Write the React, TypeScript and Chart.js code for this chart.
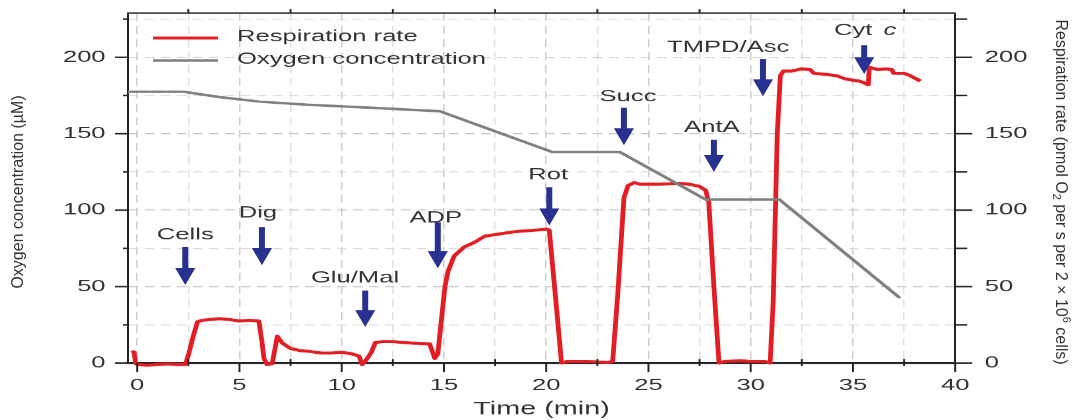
import React, { useEffect, useRef } from 'react';
import { Chart, registerables } from 'chart.js';

Chart.register(...registerables);

// ---------------- data ----------------
const respTime = [-0.25, -0.15, -0.08, 0, 0.5, 1, 1.5, 2, 2.35, 2.5, 2.75, 2.95, 3.2, 3.6, 4, 4.5, 5, 5.5, 5.95, 6.1, 6.2, 6.35, 6.6, 6.72, 6.85, 7.1, 7.5, 8, 8.5, 9, 9.5, 10, 10.5, 10.85, 11.0, 11.2, 11.45, 11.65, 12, 12.5, 13, 13.5, 14.3, 14.45, 14.55, 14.7, 14.85, 15.05, 15.2, 15.5, 16, 16.5, 17, 17.5, 18, 18.5, 19, 19.5, 20, 20.15, 20.45, 20.75, 21, 22, 23, 23.25, 23.5, 23.8, 24.0, 24.3, 24.6, 25.5, 26.5, 27.0, 27.5, 27.8, 27.95, 28.2, 28.45, 28.7, 29.5, 30, 30.7, 30.95, 31.1, 31.3, 31.45, 31.6, 32, 32.5, 32.9, 33.1, 33.6, 34.2, 34.6, 35, 35.3, 35.6, 35.75, 35.8, 36.2, 36.6, 36.9, 37.0, 37.5, 37.8, 38.3];
const respRate = [8, 7, 0, -1, -1.5, -1, -0.5, -1, -1, 5, 18, 27, 28, 28.5, 29, 28.5, 27.5, 28, 27.5, 14, 3, -1, -0.5, 8, 17.5, 13, 9.5, 8, 7.5, 6.5, 6.5, 7, 6, 4.5, -1, 2, 7, 13.5, 14, 14, 13.5, 13, 12.5, 7, 3, 6, 25, 50, 60, 70, 76, 79, 83, 84, 85, 86, 86.5, 87, 87.5, 87, 44, 0, 1, 1, 0.5, 1, 45, 108, 116, 118, 117, 117, 117.5, 117, 115.5, 113, 105, 50, 0, 1, 1.5, 1, 1, 0, 40, 150, 188, 191, 191, 192.5, 192, 189.5, 189, 188, 186, 185, 184.5, 183, 182, 193.5, 192, 192.5, 192, 189.5, 189.5, 188, 184.5];

const oxyTime = [-0.45, 2.3, 4.0, 6.0, 8.3, 11.5, 14.8, 20.3, 23.6, 27.8, 31.4, 37.3];
const oxyConc = [177.5, 177.5, 174, 171, 169, 167, 164.7, 138, 138, 107, 107, 42.5];

const xMajorTicks = [0, 5, 10, 15, 20, 25, 30, 35, 40];
const xMinorTicks = [2.5, 7.5, 12.5, 17.5, 22.5, 27.5, 32.5, 37.5];
const yMajorTicks = [0, 50, 100, 150, 200];
const yMinorTicks = [25, 75, 125, 175, 225];

const additions = ['Cells', 'Dig', 'Glu/Mal', 'ADP', 'Rot', 'Succ', 'AntA', 'TMPD/Asc', 'Cyt c'];
const arrowTime = [2.35, 6.1, 11.15, 14.7, 20.15, 23.8, 28.2, 30.6, 35.55];
const arrowTop = [76, 89, 47.5, 92, 115, 167, 146, 199, 208];
const arrowTip = [51, 64, 23.5, 62, 90, 142.5, 125, 174.5, 189];
const labelTime = [2.35, 5.9, 10.65, 14.6, 20.1, 24.0, 28.1, 28.9, 35.6];
const labelLevel = [83.7, 98, 55.5, 95, 123, 174, 154, 206.5, 217.6];

const seriesNames = ['Respiration rate', 'Oxygen concentration'];
const xTitle = 'Time (min)';
const leftTitle = 'Oxygen concentration (µM)';

// ---------------- styling ----------------
const STRETCH = 1.6; // the reference picture is stretched horizontally
const LOGICAL_W = 674;
const H = 420;
const FONT = '"Liberation Sans", Arial, Helvetica, sans-serif';
const TEXT = '#333333';
const RED = '#e31d24';
const GRAY = '#808080';
const BLUE = '#283190';

const isIn = (arr: number[], v: number) => arr.some((a) => Math.abs(a - v) < 1e-6);

const decorPlugin = {
  id: 'decor',
  afterDatasetsDraw(chart: any) {
    const ctx: CanvasRenderingContext2D = chart.ctx;
    const xs = chart.scales.x;
    const yl = chart.scales.y;
    const yr = chart.scales.y1;
    const { left, right, top, bottom } = chart.chartArea;
    ctx.save();

    // top frame
    ctx.strokeStyle = '#444';
    ctx.lineWidth = 1.6;
    ctx.beginPath();
    ctx.moveTo(left, top);
    ctx.lineTo(right, top);
    ctx.stroke();

    // tick marks
    const hLine = (x1: number, x2: number, y: number) => {
      ctx.beginPath();
      ctx.moveTo(x1, y);
      ctx.lineTo(x2, y);
      ctx.stroke();
    };
    const vLine = (x: number, y1: number, y2: number) => {
      ctx.beginPath();
      ctx.moveTo(x, y1);
      ctx.lineTo(x, y2);
      ctx.stroke();
    };
    ctx.strokeStyle = '#222';
    ctx.lineWidth = 1.5;
    yMajorTicks.forEach((v) => {
      const y = yl.getPixelForValue(v);
      hLine(left - 13 / STRETCH, left, y);
      hLine(right, right + 17 / STRETCH, y);
    });
    yMinorTicks.forEach((v) => {
      const y = yl.getPixelForValue(v);
      hLine(left - 5 / STRETCH, left, y);
      hLine(right, right + 12 / STRETCH, y);
    });
    ctx.lineWidth = 1.2;
    xMajorTicks.forEach((v) => {
      const x = xs.getPixelForValue(v);
      vLine(x, bottom, bottom + 9);
    });
    xMinorTicks.forEach((v) => {
      const x = xs.getPixelForValue(v);
      vLine(x, bottom - 4, bottom + 3);
      vLine(x, top - 4, top);
    });

    // arrows marking additions
    ctx.fillStyle = BLUE;
    const shaftHalf = 3 / STRETCH;
    const headHalf = 10 / STRETCH;
    const headLen = 17;
    additions.forEach((_, i) => {
      const x = xs.getPixelForValue(arrowTime[i]);
      const yTop = yr.getPixelForValue(arrowTop[i]);
      const yTip = yr.getPixelForValue(arrowTip[i]);
      const yHead = yTip - headLen;
      ctx.beginPath();
      ctx.moveTo(x - shaftHalf, yTop);
      ctx.lineTo(x + shaftHalf, yTop);
      ctx.lineTo(x + shaftHalf, yHead);
      ctx.lineTo(x + headHalf, yHead);
      ctx.lineTo(x, yTip);
      ctx.lineTo(x - headHalf, yHead);
      ctx.lineTo(x - shaftHalf, yHead);
      ctx.closePath();
      ctx.fill();
    });

    // labels of additions
    ctx.fillStyle = TEXT;
    ctx.textBaseline = 'middle';
    additions.forEach((name, i) => {
      const cx = xs.getPixelForValue(labelTime[i]);
      const cy = yr.getPixelForValue(labelLevel[i]);
      if (name === 'Cyt c') {
        ctx.font = `16px ${FONT}`;
        const w1 = ctx.measureText('Cyt').width;
        ctx.font = `italic 16px ${FONT}`;
        const w2 = ctx.measureText('c').width;
        const gap = 7;
        const start = cx - (w1 + gap + w2) / 2;
        ctx.textAlign = 'left';
        ctx.font = `16px ${FONT}`;
        ctx.fillText('Cyt', start, cy);
        ctx.font = `italic 16px ${FONT}`;
        ctx.fillText('c', start + w1 + gap, cy);
      } else {
        ctx.font = `16px ${FONT}`;
        ctx.textAlign = 'center';
        ctx.fillText(name, cx, cy);
      }
    });

    // legend inside the plot
    const legendRows = [
      { label: seriesNames[0], color: RED, width: 3, y: 38 },
      { label: seriesNames[1], color: GRAY, width: 2.5, y: 60.5 },
    ];
    legendRows.forEach((row) => {
      ctx.strokeStyle = row.color;
      ctx.lineWidth = row.width;
      hLine(153 / STRETCH, 218 / STRETCH, row.y);
      ctx.fillStyle = TEXT;
      ctx.font = `16px ${FONT}`;
      ctx.textAlign = 'left';
      ctx.textBaseline = 'middle';
      ctx.fillText(row.label, 237 / STRETCH, row.y - 1);
    });

    // vertical axis titles (drawn unstretched)
    type Part = { t: string; small?: boolean; dy?: number };
    const drawRich = (parts: Part[], cx: number, cy: number, rot: number) => {
      ctx.save();
      ctx.translate(cx, cy);
      ctx.scale(1 / STRETCH, 1);
      ctx.rotate(rot);
      ctx.textAlign = 'left';
      ctx.textBaseline = 'middle';
      ctx.fillStyle = TEXT;
      let total = 0;
      parts.forEach((p) => {
        ctx.font = p.small ? `11px ${FONT}` : `16px ${FONT}`;
        total += ctx.measureText(p.t).width;
      });
      let x = -total / 2;
      parts.forEach((p) => {
        ctx.font = p.small ? `11px ${FONT}` : `16px ${FONT}`;
        ctx.fillText(p.t, x, p.dy || 0);
        x += ctx.measureText(p.t).width;
      });
      ctx.restore();
    };
    const midY = (top + bottom) / 2 + 4;
    drawRich([{ t: leftTitle }], 19 / STRETCH, midY, -Math.PI / 2);
    drawRich(
      [
        { t: 'Respiration rate (pmol O' },
        { t: '2', small: true, dy: 4 },
        { t: ' per s per 2 × 10' },
        { t: '6', small: true, dy: -6 },
        { t: ' cells)' },
      ],
      1060 / STRETCH,
      midY,
      Math.PI / 2
    );

    ctx.restore();
  },
};

const noEdgePadding = (axis: any) => {
  axis.paddingTop = 0;
  axis.paddingBottom = 0;
  axis.paddingLeft = 0;
  axis.paddingRight = 0;
};

export default function App() {
  const ref = useRef<HTMLCanvasElement>(null);

  useEffect(() => {
    const canvas = ref.current;
    if (!canvas) return;
    const tickFont = { family: FONT, size: 16 };
    const xAll = [...xMajorTicks, ...xMinorTicks].sort((a, b) => a - b);
    const yAll = [...yMajorTicks, ...yMinorTicks].sort((a, b) => a - b);

    const chart = new Chart(canvas, {
      type: 'line',
      data: {
        datasets: [
          {
            label: seriesNames[1],
            data: oxyTime.map((t, i) => ({ x: t, y: oxyConc[i] })),
            yAxisID: 'y',
            borderColor: GRAY,
            borderWidth: 2.5,
            pointRadius: 0,
            tension: 0,
            fill: false,
          },
          {
            label: seriesNames[0],
            data: respTime.map((t, i) => ({ x: t, y: respRate[i] })),
            yAxisID: 'y1',
            borderColor: RED,
            borderWidth: 3,
            borderJoinStyle: 'round',
            pointRadius: 0,
            tension: 0,
            fill: false,
            clip: false,
          },
        ],
      },
      options: {
        responsive: false,
        devicePixelRatio: STRETCH,
        animation: false,
        events: [],
        layout: { padding: { top: 13, left: 0, right: 0, bottom: 0 } },
        plugins: {
          legend: { display: false },
          tooltip: { enabled: false },
          title: { display: false },
        },
        scales: {
          x: {
            type: 'linear',
            position: 'bottom',
            min: -0.45,
            max: 40,
            afterBuildTicks: (axis: any) => {
              axis.ticks = xAll.map((v) => ({ value: v }));
            },
            afterFit: (axis: any) => {
              axis.height = 57;
              noEdgePadding(axis);
            },
            ticks: {
              autoSkip: false,
              maxRotation: 0,
              padding: 13,
              font: tickFont,
              color: TEXT,
              callback: (v: any) => (isIn(xMajorTicks, Number(v)) ? String(v) : ''),
            },
            grid: {
              drawTicks: false,
              lineWidth: 0.8,
              color: (c: any) => (c.tick && isIn(xMajorTicks, c.tick.value) ? '#c6c6c6' : '#dcdcdc'),
            },
            border: { display: true, color: '#222', width: 2, dash: [8, 5] },
            title: {
              display: true,
              text: xTitle,
              font: { family: FONT, size: 18 },
              color: TEXT,
              padding: 0,
            },
          },
          y: {
            type: 'linear',
            position: 'left',
            min: 0,
            max: 229,
            afterBuildTicks: (axis: any) => {
              axis.ticks = yAll.map((v) => ({ value: v }));
            },
            afterFit: (axis: any) => {
              axis.width = 80;
              noEdgePadding(axis);
            },
            ticks: {
              autoSkip: false,
              padding: 14,
              font: tickFont,
              color: TEXT,
              callback: (v: any) => (isIn(yMajorTicks, Number(v)) ? String(v) : ''),
            },
            grid: {
              drawTicks: false,
              lineWidth: 1,
              color: (c: any) => (c.tick && isIn(yMajorTicks, c.tick.value) ? '#c6c6c6' : '#dcdcdc'),
            },
            border: { display: true, color: '#222', width: 1.25, dash: [6, 4] },
            title: { display: false },
          },
          y1: {
            type: 'linear',
            position: 'right',
            min: 0,
            max: 229,
            afterBuildTicks: (axis: any) => {
              axis.ticks = yAll.map((v) => ({ value: v }));
            },
            afterFit: (axis: any) => {
              axis.width = 77;
              noEdgePadding(axis);
            },
            ticks: {
              autoSkip: false,
              padding: 18.5,
              font: tickFont,
              color: TEXT,
              callback: (v: any) => (isIn(yMajorTicks, Number(v)) ? String(v) : ''),
            },
            grid: { drawOnChartArea: false, drawTicks: false },
            border: { display: true, color: '#222', width: 1.25 },
            title: { display: false },
          },
        },
      } as any,
      plugins: [decorPlugin],
    });
    return () => chart.destroy();
  }, []);

  return (
    <div style={{ position: 'fixed', left: 0, top: 0, width: 1078, height: H, background: '#fff' }}>
      <canvas
        ref={ref}
        width={LOGICAL_W}
        height={H}
        style={{ width: '1078px', height: `${H}px`, display: 'block' }}
      />
    </div>
  );
}
